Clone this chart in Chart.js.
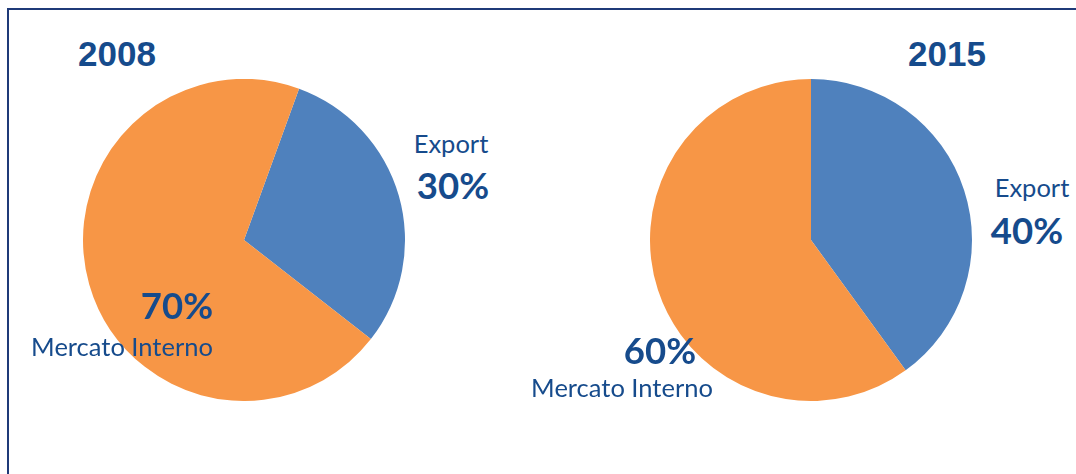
<!DOCTYPE html>
<html>
    <head>
        <title>Export / Mercato Interno</title>
        <meta charset="UTF-8" />
        <script src="https://cdn.jsdelivr.net/npm/chart.js"></script>
        <style>
            html, body { margin: 0; padding: 0; background: #fff; }
            body { width: 1076px; height: 474px; position: relative; overflow: hidden; }
            .frame { position: absolute; left: 7px; top: 8px; width: 1080px; height: 480px;
                     border-top: 2px solid #1F3A78; border-left: 2px solid #1F3A78; }
            .pie { position: absolute; top: 79px; width: 322px; height: 322px; }
            .txt { position: absolute; line-height: 1; white-space: nowrap; color: #164B8C;
                   transform: translate(-50%, -50%); }
            .year { font-family: "Liberation Sans", Arial, sans-serif; font-weight: bold; font-size: 35px; }
            .name { font-family: Lato, "Open Sans", sans-serif; font-size: 25.5px; }
            .pct { font-family: Lato, "Open Sans", sans-serif; font-weight: bold; font-size: 36.5px; }
        </style>
    </head>
    <body>
        <div class="frame"></div>
        <div class="pie" style="left:83px"><canvas id="pie2008"></canvas></div>
        <div class="pie" style="left:650px"><canvas id="pie2015"></canvas></div>

        <div class="txt year" style="left:117px; top:53px">2008</div>
        <div class="txt year" style="left:947px; top:53px">2015</div>

        <div class="txt name" style="left:451px; top:144px" id="lab2008_0"></div>
        <div class="txt pct"  style="left:453px; top:185px" id="pct2008_0"></div>
        <div class="txt pct"  style="left:177px; top:305px" id="pct2008_1"></div>
        <div class="txt name" style="left:122px; top:347px" id="lab2008_1"></div>

        <div class="txt name" style="left:1032px; top:188px" id="lab2015_0"></div>
        <div class="txt pct"  style="left:1027px; top:230px" id="pct2015_0"></div>
        <div class="txt pct"  style="left:660px; top:350px" id="pct2015_1"></div>
        <div class="txt name" style="left:622px; top:388px" id="lab2015_1"></div>

        <script>
            // dati
            var categories = ['Export', 'Mercato Interno'];
            var values2008 = [30, 70];
            var values2015 = [40, 60];
            var colors = ['#4F81BD', '#F79646'];

            function makePie(id, values, rotation) {
                var ctx = document.getElementById(id).getContext('2d');
                return new Chart(ctx, {
                    type: 'pie',
                    data: {
                        labels: categories,
                        datasets: [{
                            data: values,
                            backgroundColor: colors,
                            borderWidth: 0,
                            hoverOffset: 0
                        }]
                    },
                    options: {
                        responsive: true,
                        maintainAspectRatio: false,
                        animation: false,
                        rotation: rotation,
                        layout: { padding: 0 },
                        plugins: {
                            legend: { display: false },
                            tooltip: { enabled: false }
                        }
                    }
                });
            }

            makePie('pie2008', values2008, 20);
            makePie('pie2015', values2015, 0);

            // etichette
            function setLabels(year, values) {
                for (var i = 0; i < categories.length; i++) {
                    document.getElementById('lab' + year + '_' + i).textContent = categories[i];
                    document.getElementById('pct' + year + '_' + i).textContent = values[i] + '%';
                }
            }
            setLabels('2008', values2008);
            setLabels('2015', values2015);
        </script>
    </body>
</html>
